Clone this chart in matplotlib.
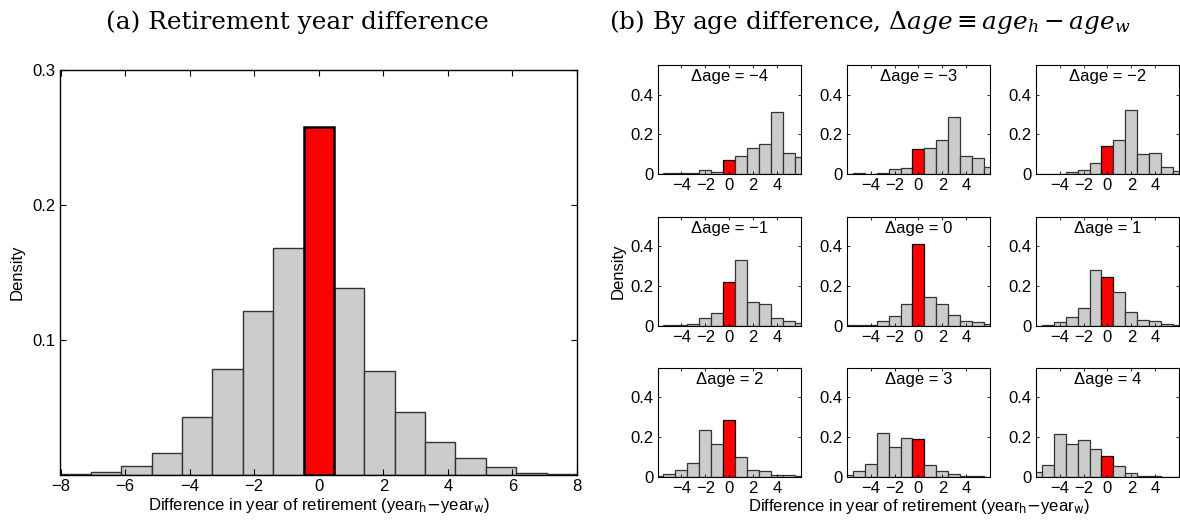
import matplotlib
matplotlib.use('Agg')
import matplotlib.pyplot as plt
import numpy as np

plt.rcParams['font.family'] = ['Liberation Sans', 'DejaVu Sans']
plt.rcParams['mathtext.fontset'] = 'dejavuserif'
plt.rcParams['xtick.direction'] = 'in'
plt.rcParams['ytick.direction'] = 'in'
plt.rcParams['xtick.top'] = True
plt.rcParams['ytick.right'] = True

# (a) overall distribution, 17 bins between -8 and 8
all_edges = np.linspace(-8, 8, 18)
all_density = [0.0005, 0.002, 0.006, 0.0156, 0.0424, 0.078, 0.1216, 0.168, 0.258,
               0.138, 0.077, 0.046, 0.0243, 0.0119, 0.0055, 0.0012, 0.0003]

# (b) by age difference, bins -6..6
years = list(range(-6, 7))
age_diffs = [-4, -3, -2, -1, 0, 1, 2, 3, 4]
dens_m4 = [0.002, 0.003, 0.003, 0.003, 0.018, 0.012, 0.07, 0.09, 0.13, 0.15, 0.315, 0.105, 0.085]
dens_m3 = [0.001, 0.003, 0.002, 0.007, 0.023, 0.028, 0.127, 0.133, 0.173, 0.288, 0.093, 0.08, 0.033]
dens_m2 = [0.0, 0.001, 0.002, 0.008, 0.018, 0.053, 0.142, 0.172, 0.325, 0.103, 0.105, 0.033, 0.017]
dens_m1 = [0.001, 0.002, 0.005, 0.01, 0.038, 0.063, 0.223, 0.33, 0.12, 0.107, 0.04, 0.023, 0.015]
dens_0 = [0.002, 0.004, 0.003, 0.025, 0.047, 0.11, 0.413, 0.143, 0.108, 0.055, 0.022, 0.018, 0.01]
dens_1 = [0.001, 0.005, 0.018, 0.042, 0.087, 0.283, 0.248, 0.168, 0.067, 0.027, 0.022, 0.01, 0.003]
dens_2 = [0.003, 0.012, 0.032, 0.068, 0.235, 0.165, 0.285, 0.098, 0.032, 0.027, 0.009, 0.007, 0.002]
dens_3 = [0.008, 0.028, 0.062, 0.222, 0.152, 0.196, 0.19, 0.06, 0.03, 0.012, 0.005, 0.002, 0.001]
dens_4 = [0.022, 0.057, 0.214, 0.167, 0.187, 0.14, 0.103, 0.052, 0.017, 0.002, 0.002, 0.001, 0.0]
panels = [dens_m4, dens_m3, dens_m2, dens_m1, dens_0, dens_1, dens_2, dens_3, dens_4]

W, H = 1180, 524
fig = plt.figure(figsize=(W / 100, H / 100), dpi=100)


def px_axes(l, t, w, h):
    return fig.add_axes([l / W, 1 - (t + h) / H, w / W, h / H])


GRAY = '#cccccc'
EDGE = '#333333'
FS = 12
TITLE_FS = 17.8

# panel (a)
ax = px_axes(60.5, 70, 516.5, 404.5)
centers = (all_edges[:-1] + all_edges[1:]) / 2
width = all_edges[1] - all_edges[0]
mid = len(all_density) // 2
colors = [GRAY] * len(all_density)
colors[mid] = 'red'
bars = ax.bar(centers, all_density, width=width, color=colors, edgecolor=EDGE, linewidth=1.0)
bars[mid].set_edgecolor('black')
bars[mid].set_linewidth(1.8)
bars[mid].set_zorder(3)
ax.set_xlim(-8, 8)
ax.set_ylim(0, 0.3)
ax.set_xticks(range(-8, 9, 2))
ax.set_yticks([0.1, 0.2, 0.3])
ax.set_yticklabels(['0.1', '0.2', '0.3'])
ax.tick_params(labelsize=FS, length=4, width=0.8)
for s in ax.spines.values():
    s.set_linewidth(1.0)
ax.set_ylabel('Density', fontsize=FS, labelpad=6)
ax.set_xlabel(r'Difference in year of retirement (year$_{\mathsf{h}}$$-$year$_{\mathsf{w}}$)',
              fontsize=FS, labelpad=1)

fig.text(297 / W, 1 - 22 / H, '(a) Retirement year difference', family='DejaVu Serif',
         fontsize=TITLE_FS, ha='center', va='center')
fig.text(870 / W, 1 - 22 / H, r'(b) By age difference, $\Delta age \equiv age_h - age_w$',
         family='DejaVu Serif', fontsize=TITLE_FS, ha='center', va='center')

# panel (b) grid
col_left = [657.5, 846.7, 1035.7]
row_top = [65, 216.7, 367.7]
for i, (d, dens) in enumerate(zip(age_diffs, panels)):
    r, c = divmod(i, 3)
    a = px_axes(col_left[c], row_top[r], 143.5, 109)
    cols = ['red' if y == 0 else GRAY for y in years]
    edges = ['black' if y == 0 else EDGE for y in years]
    a.bar(years, dens, width=1.0, color=cols, edgecolor=edges, linewidth=0.9)
    a.set_xlim(-6, 6)
    a.set_ylim(0, 0.55)
    a.set_xticks([-4, -2, 0, 2, 4])
    a.set_yticks([0, 0.2, 0.4])
    a.set_yticklabels(['0', '0.2', '0.4'])
    a.tick_params(labelsize=FS, length=2.5, width=0.6, pad=3)
    a.text(0.5, 0.965, 'Δage = ' + str(d).replace('-', '\u2212'), transform=a.transAxes,
           ha='center', va='top', fontsize=FS)
    if i == 3:
        a.set_ylabel('Density', fontsize=FS, labelpad=3)
    if i == 7:
        a.set_xlabel(r'Difference in year of retirement (year$_{\mathsf{h}}$$-$year$_{\mathsf{w}}$)',
                     fontsize=FS, labelpad=1)

fig.savefig('out.png', dpi=100)
